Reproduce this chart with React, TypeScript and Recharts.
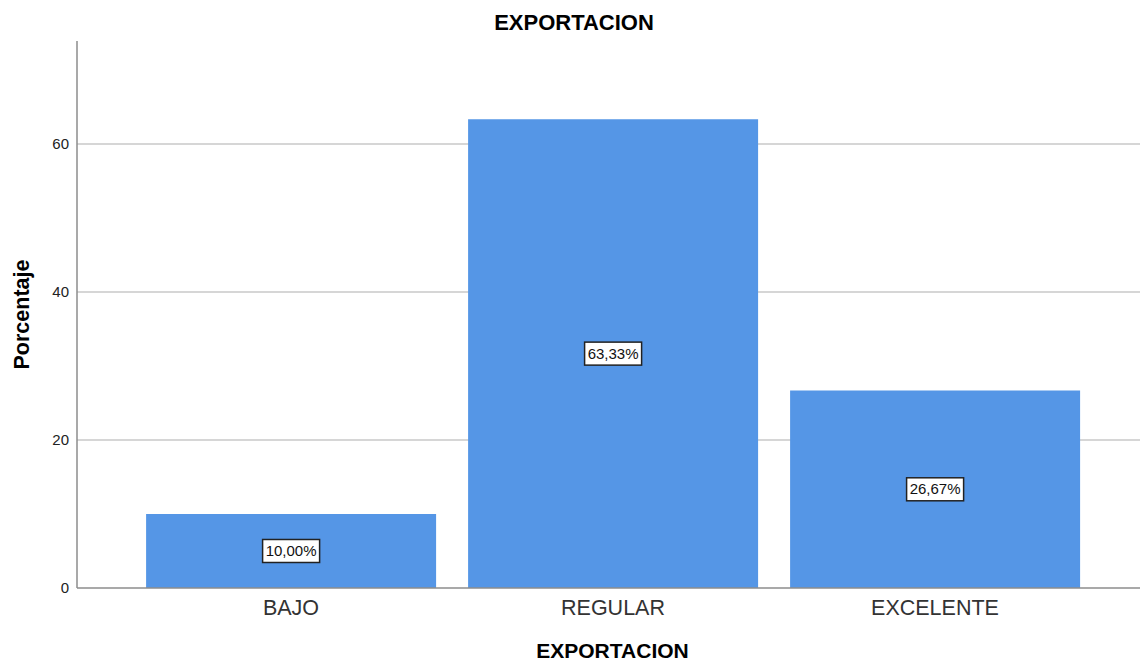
import { BarChart, Bar, XAxis, YAxis, CartesianGrid, LabelList } from 'recharts';

const categories = ['BAJO', 'REGULAR', 'EXCELENTE'];
const percentages = [10.0, 63.33, 26.67];
const yTicks = [0, 20, 40, 60];
const gridValues = [20, 40, 60];

const data = categories.map((name, i) => ({ name, value: percentages[i] }));

const FONT = '"Liberation Sans", Arial, sans-serif';

function BoxLabel(props: any) {
  const { x, y, width, height, value } = props;
  const cx = x + width / 2;
  const cy = y + height / 2;
  const text = value.toFixed(2).replace('.', ',') + '%';
  const w = 57;
  const h = 23;
  return (
    <g>
      <rect x={cx - w / 2} y={cy - h / 2} width={w} height={h} fill="#fff" stroke="#222" strokeWidth={1.5} />
      <text x={cx} y={cy + 5} textAnchor="middle" fontSize={15} fill="#111" fontFamily={FONT}>
        {text}
      </text>
    </g>
  );
}

export default function App() {
  return (
    <div style={{ position: 'absolute', left: 0, top: 0, width: 1140, height: 663, background: '#fff' }}>
      <div
        style={{
          position: 'absolute',
          top: 10,
          left: 0,
          width: 1148,
          textAlign: 'center',
          fontFamily: FONT,
          fontWeight: 'bold',
          fontSize: 22,
          color: '#000',
        }}
      >
        EXPORTACION
      </div>
      <BarChart
        width={1140}
        height={663}
        data={data}
        margin={{ top: 41, right: 0, left: 0, bottom: 0 }}
        barCategoryGap="5%"
      >
        <CartesianGrid vertical={false} horizontalValues={gridValues} stroke="#c8c8c8" strokeWidth={1.5} />
        <XAxis
          dataKey="name"
          padding={{ left: 53, right: 44 }}
          tickLine={false}
          axisLine={{ stroke: '#8c8c8c', strokeWidth: 1.5 }}
          tick={{ fontSize: 21.5, fill: '#333', fontFamily: FONT }}
          tickMargin={6}
          height={75}
          label={(p: any) => (
            <text
              x={p.viewBox.x + p.viewBox.width / 2 + 4}
              y={p.viewBox.y + 70}
              textAnchor="middle"
              fontSize={21}
              fontWeight="bold"
              fill="#000"
              fontFamily={FONT}
            >
              EXPORTACION
            </text>
          )}
        />
        <YAxis
          width={77}
          domain={[0, 73.9]}
          ticks={yTicks}
          tickLine={false}
          axisLine={{ stroke: '#8c8c8c', strokeWidth: 1.5 }}
          tick={{ fontSize: 15, fill: '#222', fontFamily: FONT }}
          tickMargin={2}
          label={(p: any) => (
            <text
              transform={`translate(${p.viewBox.x + 29}, ${p.viewBox.y + p.viewBox.height / 2}) rotate(-90)`}
              textAnchor="middle"
              fontSize={21.5}
              fontWeight="bold"
              fill="#000"
              fontFamily={FONT}
            >
              Porcentaje
            </text>
          )}
        />
        <Bar dataKey="value" fill="#5596e6" isAnimationActive={false}>
          <LabelList dataKey="value" content={BoxLabel} />
        </Bar>
      </BarChart>
    </div>
  );
}
